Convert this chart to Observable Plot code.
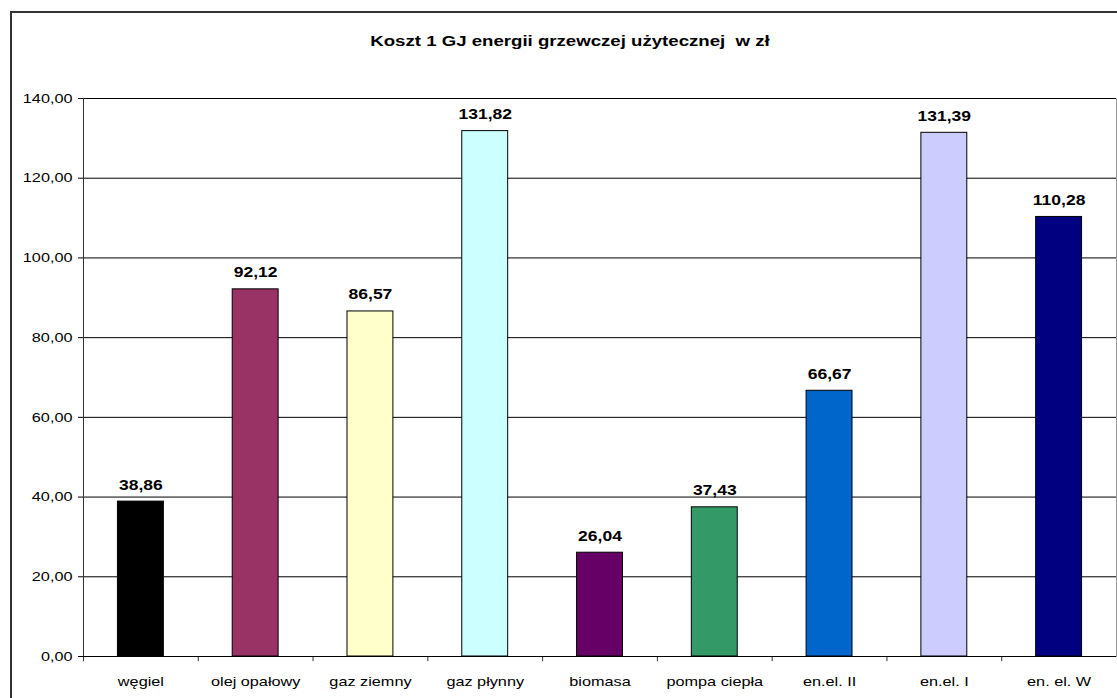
<!DOCTYPE html>
<html>
<head>
<meta charset="utf-8">
<script src="https://cdn.jsdelivr.net/npm/d3@7"></script>
<script src="https://cdn.jsdelivr.net/npm/@observablehq/plot@0.6"></script>
<style>
  html, body { margin: 0; padding: 0; background: #fff; overflow: hidden; }
  #wrap { position: relative; width: 1117px; height: 698px; font-family: "Liberation Sans", Arial, sans-serif; }
  #border { position: absolute; left: 10px; top: 11px; width: 1200px; height: 800px; border: 2px solid #333; box-sizing: border-box; }
  #title { position: absolute; left: 570px; top: 33px; white-space: pre; font-weight: bold; font-size: 14px; line-height: 16px; color: #000; transform: translateX(-50%) scaleX(1.33); }
  #chart { position: absolute; left: 0; top: 0; }
</style>
</head>
<body>
<div id="wrap">
  <div id="border"></div>
  <div id="title">Koszt 1 GJ energii grzewczej użytecznej  w zł</div>
  <div id="chart"></div>
</div>
<script>
const categories = ["węgiel", "olej opałowy", "gaz ziemny", "gaz płynny", "biomasa", "pompa ciepła", "en.el. II", "en.el. I", "en. el. W"];
const values = [38.86, 92.12, 86.57, 131.82, 26.04, 37.43, 66.67, 131.39, 110.28];
const colors = ["#000000", "#993366", "#FFFFCC", "#CCFFFF", "#660066", "#339966", "#0066CC", "#CCCCFF", "#000080"];
const yTicks = [0, 20, 40, 60, 80, 100, 120, 140];

const data = categories.map((c, i) => ({category: c, value: values[i], color: colors[i]}));
const fmt = v => v.toFixed(2).replace(".", ",");

const W = 1117, H = 698, ML = 83, MR = 1, MT = 98, MB = 42;
const step = (W - ML - MR) / categories.length;

const chart = Plot.plot({
  width: W,
  height: H,
  marginLeft: ML,
  marginRight: MR,
  marginTop: MT,
  marginBottom: MB,
  style: {fontFamily: "'Liberation Sans', Arial, sans-serif", background: "transparent", overflow: "visible"},
  x: {domain: categories, paddingInner: 0.6, paddingOuter: 0.3, round: false, axis: null, label: null},
  y: {domain: [0, 140], axis: null, label: null},
  marks: [
    Plot.frame({stroke: "#999"}),
    Plot.gridY(yTicks, {stroke: "#000", strokeOpacity: 1, strokeWidth: 1}),
    Plot.axisY(yTicks, {tickSize: 5, tickPadding: 6, tickFormat: fmt, fontSize: 13, stroke: "#000", fill: "#000", label: null}),
    Plot.barY(data, {x: "category", y: "value", fill: "color", stroke: "#000", strokeWidth: 1}),
    Plot.ruleX(categories, {x: d => d, y1: -1.3, y2: 140, dx: -step / 2, stroke: "#333", filter: (d, i) => i === 0}),
    Plot.ruleX(categories, {x: d => d, y1: -1.3, y2: 0, dx: -step / 2, stroke: "#333"}),
    Plot.ruleY([0], {stroke: "#000"}),
    Plot.axisX(categories, {tickSize: 0, tickPadding: 20, fontSize: 13, fill: "#000", label: null}),
    Plot.text(data, {x: "category", y: "value", text: d => fmt(d.value), lineAnchor: "bottom", dy: -12, fontSize: 14, fontWeight: "bold", fill: "#000"})
  ]
});
document.getElementById("chart").appendChild(chart);

// horizontally stretch text glyphs to match the reference's wide rendering
chart.querySelectorAll("text").forEach(t => {
  const len = t.getComputedTextLength();
  if (len > 0) {
    t.setAttribute("textLength", (len * 1.25).toFixed(1));
    t.setAttribute("lengthAdjust", "spacingAndGlyphs");
  }
});
</script>
</body>
</html>
